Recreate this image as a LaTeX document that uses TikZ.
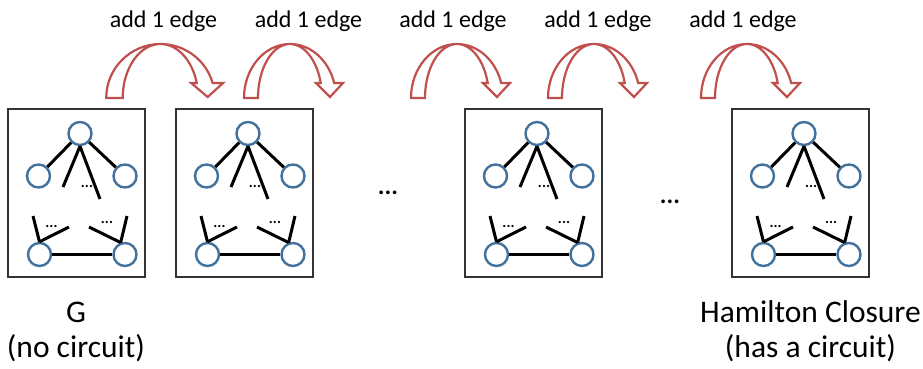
\documentclass[tikz,border=0pt]{standalone}
\usepackage{fontspec}
\setmainfont{Carlito}
\definecolor{vblue}{RGB}{65,113,156}
\definecolor{ared}{RGB}{192,80,77}
\tikzset{
  vtx/.style={circle, draw=vblue, line width=2.4pt, fill=white, minimum size=23pt, inner sep=0pt},
  edge/.style={line width=3pt, black},
  boxframe/.style={draw=black!80, line width=1.3pt, minimum width=137pt, minimum height=168pt, inner sep=0pt},
  arr/.style={draw=ared, line width=2.2pt, fill=white, line join=miter},
  smalldots/.style={font=\fontsize{15}{15}\selectfont\bfseries, inner sep=0pt},
  bigdots/.style={font=\fontsize{25}{25}\selectfont\bfseries, inner sep=0pt},
  toplabel/.style={font=\fontsize{24}{24}\selectfont, anchor=base, inner sep=0pt},
  botlabel/.style={font=\fontsize{31.5}{31.5}\selectfont, anchor=base, inner sep=0pt}
}
\newcommand{\bentarrow}[3]{% #1 name, #2 centre x, #3 xscale
  \begin{scope}[shift={(#2,98)}, xscale=#3]
    \draw[arr] (-46,0) arc[start angle=180, end angle=344, x radius=46, y radius=54]
      -- (53,-15) -- (40,-1) -- (26,-15) -- (30.76,-14.88)
      arc[start angle=344, end angle=180, x radius=32, y radius=54] -- cycle;
    \coordinate (#1) at (0,-54);
  \end{scope}}
\newcommand{\graphbox}[3]{% #1 prefix, #2 left x, #3 top y
  \begin{scope}[shift={(#2,#3)}]
    \node[boxframe] (#1-box) at (68.5,84) {};
    \node[vtx] (#1-t) at (72,24.5) {};
    \node[vtx] (#1-l) at (30.5,67) {};
    \node[vtx] (#1-r) at (117,67) {};
    \node[vtx] (#1-bl) at (31.5,145.5) {};
    \node[vtx] (#1-br) at (117,145.5) {};
    \coordinate (#1-a) at (55,78);
    \coordinate (#1-b) at (92,90);
    \coordinate (#1-c) at (25,107);
    \coordinate (#1-d) at (61,118);
    \coordinate (#1-e) at (119,107);
    \coordinate (#1-f) at (81,118);
    \draw[edge] (#1-t) -- (#1-l);
    \draw[edge] (#1-t) -- (#1-r);
    \draw[edge] (#1-t.south) -- (#1-a);
    \draw[edge] (#1-t.south) -- (#1-b);
    \draw[edge] (#1-bl.north) -- (#1-c);
    \draw[edge] (#1-bl.north) -- (#1-d);
    \draw[edge] (#1-br.110) -- (#1-e);
    \draw[edge] (#1-br.110) -- (#1-f);
    \draw[edge] (#1-bl) -- (#1-br);
    \node[smalldots] (#1-d1) at (79,77) {...};
    \node[smalldots] (#1-d2) at (43.5,117) {...};
    \node[smalldots] (#1-d3) at (99,113) {...};
  \end{scope}}
\begin{document}
\begin{tikzpicture}[x=1pt, y=-1pt]
  \useasboundingbox (0,0) rectangle (923,368);
  % top labels
  \node[toplabel] (l1) at (163.5,27) {add 1 edge};
  \node[toplabel] (l2) at (308.5,27) {add 1 edge};
  \node[toplabel] (l3) at (453,27) {add 1 edge};
  \node[toplabel] (l4) at (598,27) {add 1 edge};
  \node[toplabel] (l5) at (743,27) {add 1 edge};
  % curved arrows
  \bentarrow{a1}{160.5}{1.18}
  \bentarrow{a2}{290}{1}
  \bentarrow{a3}{457}{1}
  \bentarrow{a4}{594}{1}
  \bentarrow{a5}{747}{1}
  % graph boxes
  \graphbox{g1}{8}{109}
  \graphbox{g2}{176}{109}
  \graphbox{g3}{465}{109}
  \graphbox{g4}{732}{109}
  % ellipses between boxes
  \node[bigdots] (e1) at (388,193) {...};
  \node[bigdots] (e2) at (670,202) {...};
  % bottom labels
  \node[botlabel] (b1) at (76,322) {G};
  \node[botlabel] (b2) at (76,357) {(no circuit)};
  \node[botlabel] (b3) at (810.5,322) {Hamilton Closure};
  \node[botlabel] (b4) at (810.5,357) {(has a circuit)};
\end{tikzpicture}
\end{document}
